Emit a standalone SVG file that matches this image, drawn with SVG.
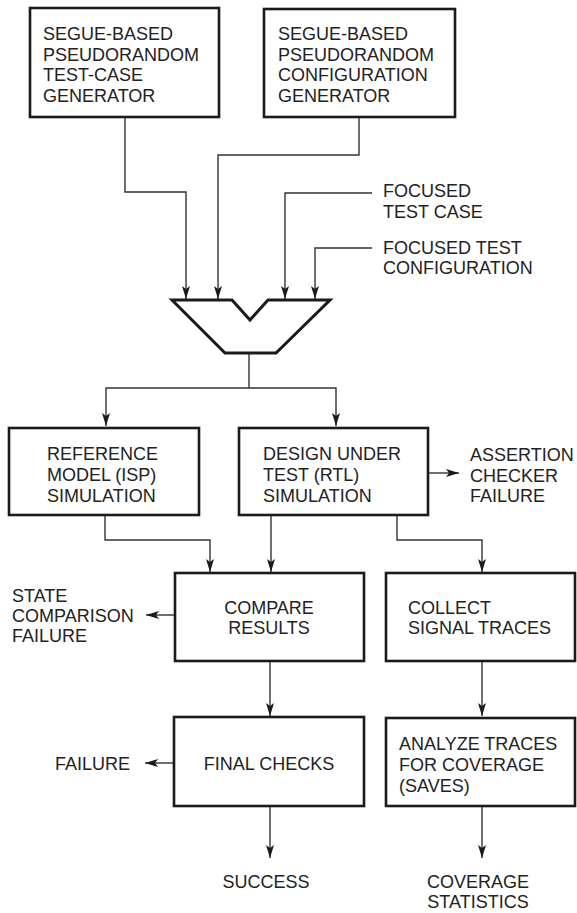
<svg xmlns="http://www.w3.org/2000/svg" width="577" height="913" viewBox="0 0 577 913">
<style>
.box{fill:#fff;stroke:#1a1a1a;stroke-width:2.6}
.c{fill:none;stroke:#333;stroke-width:1.4}
text{font-family:"Liberation Sans",Arial,sans-serif;font-size:18px;fill:#222}
.m{text-anchor:middle}
</style>
<defs>
<marker id="ah" markerUnits="userSpaceOnUse" markerWidth="14" markerHeight="10" refX="13" refY="4" orient="auto">
<path d="M0,0 L13,4 L0,8 L3,4 z" fill="#1a1a1a"/>
</marker>
</defs>
<g id="connectors">
<path class="c" d="M125,117 V192 H186 V299" marker-end="url(#ah)"/>
<path class="c" d="M359,117 V155 H218 V299" marker-end="url(#ah)"/>
<path class="c" d="M372,193 H285 V299" marker-end="url(#ah)"/>
<path class="c" d="M372,248 H315 V299" marker-end="url(#ah)"/>
<path class="c" d="M249,353 V388 H106 V426" marker-end="url(#ah)"/>
<path class="c" d="M249,388 H336 V426" marker-end="url(#ah)"/>
<path class="c" d="M428,473 H459" marker-end="url(#ah)"/>
<path class="c" d="M105,515 V540 H210 V572" marker-end="url(#ah)"/>
<path class="c" d="M271,515 V572" marker-end="url(#ah)"/>
<path class="c" d="M397,515 V540 H482 V572" marker-end="url(#ah)"/>
<path class="c" d="M175,615 H146" marker-end="url(#ah)"/>
<path class="c" d="M270,661 V716" marker-end="url(#ah)"/>
<path class="c" d="M482,661 V716" marker-end="url(#ah)"/>
<path class="c" d="M174,763 H145" marker-end="url(#ah)"/>
<path class="c" d="M270,806 V858" marker-end="url(#ah)"/>
<path class="c" d="M482,806 V858" marker-end="url(#ah)"/>
</g>
<g id="testcase-gen">
<rect class="box" x="30" y="8" width="189" height="109"/>
<text x="43" y="40">SEGUE-BASED</text>
<text x="43" y="60.5">PSEUDORANDOM</text>
<text x="43" y="81">TEST-CASE</text>
<text x="43" y="101.5">GENERATOR</text>
</g>
<g id="config-gen">
<rect class="box" x="264" y="9" width="191" height="108"/>
<text x="278" y="40">SEGUE-BASED</text>
<text x="278" y="60.5">PSEUDORANDOM</text>
<text x="278" y="81">CONFIGURATION</text>
<text x="278" y="101.5">GENERATOR</text>
</g>
<g id="focused-test-case">
<text x="383" y="196.5">FOCUSED</text>
<text x="383" y="217.5">TEST CASE</text>
</g>
<g id="focused-test-config">
<text x="383" y="253.5">FOCUSED TEST</text>
<text x="383" y="273.5">CONFIGURATION</text>
</g>
<g id="mux">
<polygon points="172,300 232,300 250,320 268,300 330,300 276,353 225,353" fill="#fff" stroke="#1a1a1a" stroke-width="3" stroke-linejoin="miter"/>
</g>
<g id="reference-model">
<rect class="box" x="9" y="428" width="190" height="87"/>
<text x="47" y="459.5">REFERENCE</text>
<text x="47" y="481">MODEL (ISP)</text>
<text x="47" y="501.5">SIMULATION</text>
</g>
<g id="dut">
<rect class="box" x="239" y="428" width="189" height="87"/>
<text x="263" y="459.5">DESIGN UNDER</text>
<text x="263" y="481">TEST (RTL)</text>
<text x="263" y="501.5">SIMULATION</text>
</g>
<g id="assertion-failure">
<text x="470" y="460.5">ASSERTION</text>
<text x="470" y="481.5">CHECKER</text>
<text x="470" y="501.5">FAILURE</text>
</g>
<g id="state-failure">
<text x="12" y="601.5">STATE</text>
<text x="12" y="621.5">COMPARISON</text>
<text x="12" y="641.5">FAILURE</text>
</g>
<g id="compare">
<rect class="box" x="175" y="573" width="189" height="88"/>
<text class="m" x="269" y="613.5">COMPARE</text>
<text class="m" x="269" y="633.5">RESULTS</text>
</g>
<g id="collect">
<rect class="box" x="386" y="573" width="189" height="88"/>
<text x="408" y="613.5">COLLECT</text>
<text x="408" y="633.5">SIGNAL TRACES</text>
</g>
<g id="final-checks">
<rect class="box" x="174" y="717" width="190" height="89"/>
<text class="m" x="269" y="769.5">FINAL CHECKS</text>
</g>
<g id="failure">
<text x="55" y="769.5">FAILURE</text>
</g>
<g id="analyze">
<rect class="box" x="386" y="718" width="189" height="88"/>
<text x="399" y="749.5">ANALYZE TRACES</text>
<text x="399" y="770.5">FOR COVERAGE</text>
<text x="399" y="791.5">(SAVES)</text>
</g>
<g id="success">
<text class="m" x="266" y="887.5">SUCCESS</text>
</g>
<g id="coverage-stats">
<text class="m" x="478" y="887.5">COVERAGE</text>
<text class="m" x="478" y="907.5">STATISTICS</text>
</g>
</svg>
